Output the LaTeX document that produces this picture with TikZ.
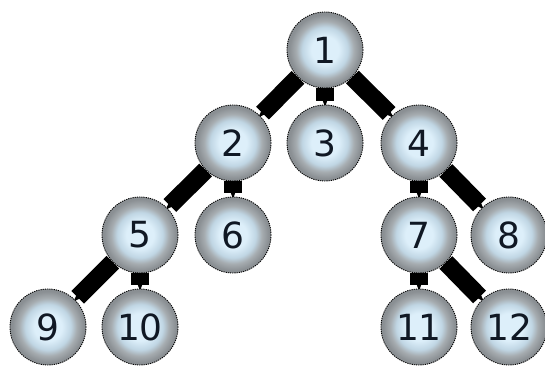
\documentclass[tikz,border=0pt]{standalone}
\usepackage{fontspec}
\setmainfont{DejaVu Sans}
\usetikzlibrary{arrows.meta,backgrounds}
\definecolor{cin}{HTML}{DDEFFA}
\definecolor{cmid}{HTML}{C0D6E4}
\definecolor{crim}{HTML}{A6ACB0}
\definecolor{cout}{HTML}{8A8F93}
\definecolor{digit}{HTML}{101824}
\pgfdeclareradialshading{nodeshade}{\pgfpoint{0bp}{0bp}}{color(0bp)=(cin); color(9bp)=(cin); color(15bp)=(cmid); color(19bp)=(crim); color(23.5bp)=(cout); color(50bp)=(cout)}
\tikzset{
  treenode/.style={circle, minimum size=76pt, inner sep=0pt, shading=nodeshade,
    draw=black, line width=0.9pt, dash pattern=on 1.2pt off 1pt,
    font=\fontsize{36}{36}\selectfont, text=digit},
  edge/.style={line width=18pt, draw=black, -{Triangle[width=4pt,length=7pt]}, shorten >=-3pt}
}
\begin{document}
\begin{tikzpicture}[x=1pt,y=1pt]
\useasboundingbox (0,0) rectangle (545,366);
\node[treenode] (n1) at (325,316) {1};
\node[treenode] (n2) at (233,223) {2};
\node[treenode] (n3) at (325,223) {3};
\node[treenode] (n4) at (419,223) {4};
\node[treenode] (n5) at (140,131) {5};
\node[treenode] (n6) at (233,131) {6};
\node[treenode] (n7) at (419,131) {7};
\node[treenode] (n8) at (509,131) {8};
\node[treenode] (n9) at (48,39) {9};
\node[treenode] (n10) at (140,39) {10};
\node[treenode] (n11) at (419,39) {11};
\node[treenode] (n12) at (509,39) {12};
\begin{scope}[on background layer]
\draw[edge] (n1) -- (n2);
\draw[edge] (n1) -- (n3);
\draw[edge] (n1) -- (n4);
\draw[edge] (n2) -- (n5);
\draw[edge] (n2) -- (n6);
\draw[edge] (n4) -- (n7);
\draw[edge] (n4) -- (n8);
\draw[edge] (n5) -- (n9);
\draw[edge] (n5) -- (n10);
\draw[edge] (n7) -- (n11);
\draw[edge] (n7) -- (n12);
\end{scope}
\end{tikzpicture}
\end{document}
